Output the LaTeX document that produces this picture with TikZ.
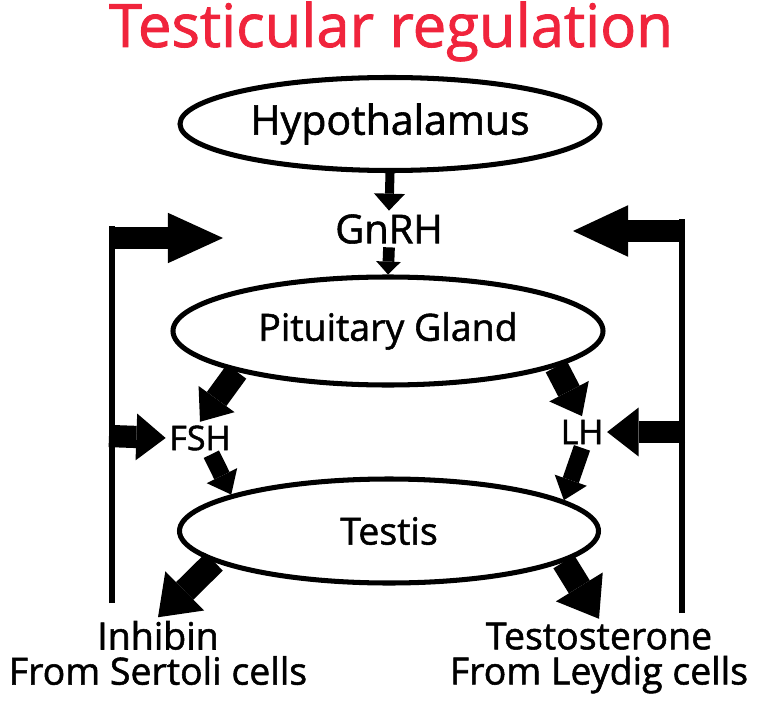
\documentclass[tikz,border=0pt]{standalone}
\usepackage{fontspec}
\setmainfont{Open Sans}[FakeBold=1.4]
\usetikzlibrary{arrows.meta,shapes.geometric}
\definecolor{titlered}{RGB}{240,36,60}

\begin{document}
\begin{tikzpicture}[x=0.3mm,y=-0.3mm,
		organ/.style={ellipse,draw,line width=4.3pt,inner sep=0pt},
		hormone/.style={inner sep=3pt,font=\fontsize{29}{30}\selectfont},
		source/.style={align=center,inner sep=3pt,font=\fontsize{32}{30}\selectfont},
		fat/.style n args={3}{line width=#1,-{Triangle[width=#2,length=#3,line width=0pt]}},
		fbline/.style={line width=5pt}]
		\useasboundingbox (0,0) rectangle (757,704);
		\node[text=titlered,font=\fontsize{51}{52}\selectfont,anchor=base] (title) at (391,47) {Testicular regulation};
		\node[organ,minimum width=126mm,minimum height=27.9mm,font=\fontsize{35}{36}\selectfont] (hyp) at (390,124) {Hypothalamus};
		\node[hormone,font=\fontsize{34}{36}\selectfont] (gnrh) at (389,229) {GnRH};
		\node[organ,minimum width=129mm,minimum height=32.4mm,font=\fontsize{32}{34}\selectfont] (pit) at (388,331) {Pituitary Gland};
		\node[hormone] (fsh) at (200,438) {FSH};
		\node[hormone] (lh) at (582,432) {LH};
		\node[organ,minimum width=125.7mm,minimum height=31.2mm,font=\fontsize{32}{34}\selectfont] (testis) at (389,531) {Testis};
		\node[source] (inhibin) at (158,653) {Inhibin\\From Sertoli cells};
		\node[source] (testo) at (599,658) {Testosterone\\From Leydig cells};
		% axis
		\draw[fat={7.7pt}{26.5pt}{14.5pt}] (hyp.south) -- (gnrh.north);
		\draw[fat={10pt}{21pt}{11pt}] (gnrh.south) -- (pit.north);
		\draw[fat={20.5pt}{38pt}{24pt}] (pit.195) -- (fsh.north);
		\draw[fat={20.5pt}{38pt}{24pt}] (pit.-12) -- (lh.north);
		\draw[fat={14.5pt}{29pt}{18pt}] (fsh.-55) -- (testis.167);
		\draw[fat={14.5pt}{29pt}{18pt}] (lh.south) -- (testis.10);
		\draw[fat={21pt}{47pt}{32pt}] (testis.190) -- (inhibin.north);
		\draw[fat={21pt}{47pt}{32pt}] (testis.-10) -- (testo.north);
		% feedback
		\coordinate (lbot) at (112,603);
		\coordinate (ltop) at (112,226);
		\coordinate (lknee) at (109,238);
		\coordinate (lfsh) at (109,436);
		\coordinate (ltip) at (223,238);
		\coordinate (rbot) at (682,613);
		\coordinate (rtop) at (682,219);
		\coordinate (rknee) at (685,231);
		\coordinate (rlh) at (685,432);
		\coordinate (rtip) at (573,231);
		\draw[fbline] (lbot) -- (ltop);
		\draw[fat={18pt}{43pt}{47pt}] (lknee) -- (ltip);
		\draw[fat={19pt}{40pt}{25pt}] (lfsh) -- (fsh.west);
		\draw[fbline] (rbot) -- (rtop);
		\draw[fat={18.5pt}{44pt}{47pt}] (rknee) -- (rtip);
		\draw[fat={19.5pt}{42pt}{27pt}] (rlh) -- (lh.east);
	\end{tikzpicture}
\end{document}
